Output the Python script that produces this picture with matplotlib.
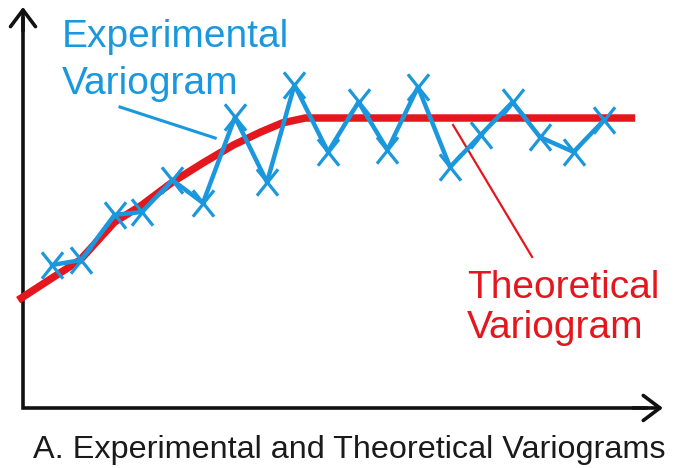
import matplotlib.pyplot as plt
from matplotlib.path import Path

# experimental variogram (lag, semivariance)
lag_exp = [0.95, 1.9, 3.0, 3.9, 4.9, 5.9, 6.95, 8.0, 8.9, 10.0,
           11.0, 11.95, 12.95, 14.0, 15.0, 16.05, 16.95, 18.05, 19.05]
gamma_exp = [0.493, 0.510, 0.666, 0.676, 0.786, 0.707, 1.003, 0.779, 1.114, 0.883,
             1.055, 0.890, 1.107, 0.831, 0.941, 1.055, 0.934, 0.883, 0.993]

# theoretical (model) variogram
lag_mod = [-0.16, 0.95, 1.87, 3.0, 3.9, 4.9, 5.9, 6.9, 7.8, 8.5, 9.25, 20.07]
gamma_mod = [0.372, 0.448, 0.510, 0.641, 0.700, 0.779, 0.845, 0.907, 0.952, 0.983, 1.0, 1.0]

blue = '#1b97dd'
red = '#e3171d'

plt.rcParams['font.family'] = ['Liberation Sans', 'DejaVu Sans']

# slightly tall X marker
tall_x = Path([(-0.4, -0.5), (0.4, 0.5), (-0.4, 0.5), (0.4, -0.5)],
              [Path.MOVETO, Path.LINETO, Path.MOVETO, Path.LINETO])

fig = plt.figure(figsize=(6.98, 4.68), dpi=100)
ax = fig.add_axes([0, 0, 1, 1])
ax.set_xlim(-0.754, 22.13)
ax.set_ylim(-0.207, 1.407)
ax.axis('off')

# axes with arrows
ax.plot([0, 0, 20.5], [1.35, 0, 0], color='#111111', lw=2.6,
        solid_joinstyle='miter', solid_capstyle='butt')
arrow = dict(arrowstyle='->,head_length=0.6,head_width=0.45', lw=2.6,
             color='#111111', mutation_scale=20, shrinkA=0, shrinkB=0)
ax.annotate('', xy=(20.98, 0), xytext=(20.0, 0), arrowprops=arrow)
ax.annotate('', xy=(0, 1.383), xytext=(0, 1.3), arrowprops=arrow)

ax.plot(lag_mod, gamma_mod, color=red, lw=5.4, solid_capstyle='butt',
        solid_joinstyle='round', zorder=2)
ax.plot(lag_exp, gamma_exp, color=blue, lw=3.2, marker=tall_x, markersize=19,
        markeredgewidth=2.3, solid_joinstyle='round', zorder=3)

# labels and leader lines
ax.text(62 / 698, 1 - 47 / 468, 'Experimental', transform=fig.transFigure,
        color=blue, fontsize=28, va='baseline', ha='left')
ax.text(62 / 698, 1 - 94 / 468, 'Variogram', transform=fig.transFigure,
        color=blue, fontsize=28, va='baseline', ha='left')
ax.plot([3.18, 6.30], [1.038, 0.931], color=blue, lw=2.2)

ax.text(467 / 698, 1 - 298 / 468, 'Theoretical', transform=fig.transFigure,
        color=red, fontsize=28, va='baseline', ha='left')
ax.text(467 / 698, 1 - 338 / 468, 'Variogram', transform=fig.transFigure,
        color=red, fontsize=28, va='baseline', ha='left')
ax.plot([14.1, 16.69], [0.976, 0.521], color=red, lw=1.6)

ax.text(33 / 698, 1 - 458 / 468, 'A. Experimental and Theoretical Variograms',
        transform=fig.transFigure, color='#1a1a1a', fontsize=23.3,
        va='baseline', ha='left')

fig.savefig('out.png', dpi=100)
